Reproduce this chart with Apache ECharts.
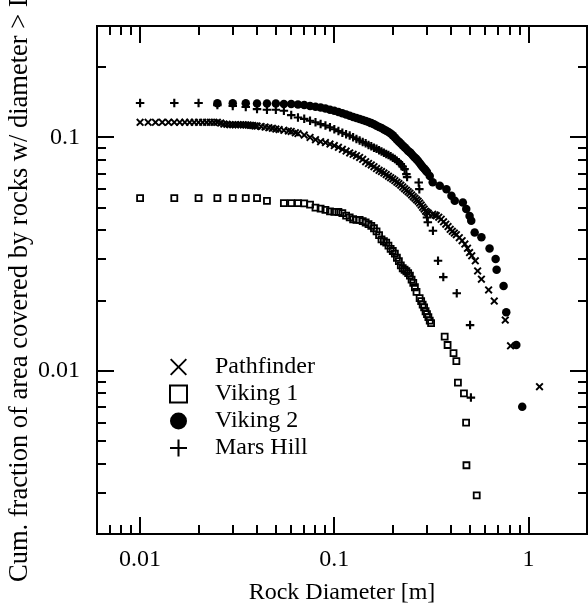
<!DOCTYPE html>
<html><head><meta charset="utf-8">
<script src="https://cdn.jsdelivr.net/npm/echarts@6/dist/echarts.min.js"></script>
<style>html,body{margin:0;padding:0;background:#fff}#c{width:588px;height:610px}</style>
</head><body><div id="c"></div>
<script>
// ---- data (rock diameter [m], cumulative area fraction) ----
const pathfinder = [
[0.010,0.116],[0.011,0.116],[0.012,0.116],[0.013,0.116],[0.014,0.116],[0.015,0.116],[0.016,0.116],[0.017,0.116],
[0.018,0.116],[0.019,0.116],[0.020,0.116],[0.021,0.116],[0.022,0.116],[0.023,0.116],[0.024,0.116],[0.025,0.116],
[0.026,0.1151],[0.027,0.1140],[0.028,0.1137],[0.029,0.1134],[0.030,0.1134],[0.031,0.1134],[0.032,0.1134],[0.033,0.1133],
[0.034,0.1132],[0.035,0.1131],[0.036,0.1129],[0.037,0.1126],[0.038,0.1123],[0.039,0.1120],[0.040,0.1118],
[0.042,0.1112],[0.044,0.1107],[0.046,0.1101],[0.048,0.1093],[0.050,0.1085],[0.052,0.1080],[0.055,0.1072],[0.058,0.1066],
[0.060,0.1061],[0.063,0.1048],[0.065,0.1038],[0.070,0.1023],[0.075,0.0999],[0.080,0.0978],[0.085,0.0959],[0.090,0.0950],
[0.095,0.0936],[0.100,0.0922],[0.105,0.0907],[0.110,0.0889],[0.115,0.0874],[0.120,0.0858],[0.125,0.0846],[0.130,0.0835],
[0.135,0.0821],[0.140,0.0805],[0.145,0.0787],[0.150,0.0773],[0.155,0.0762],[0.160,0.0749],[0.165,0.0735],[0.170,0.0723],
[0.175,0.0714],[0.180,0.0703],[0.185,0.0693],[0.190,0.0682],[0.195,0.0672],[0.200,0.0663],[0.205,0.0653],[0.210,0.0643],
[0.215,0.0634],[0.220,0.0624],[0.225,0.0613],[0.230,0.0603],[0.235,0.0594],[0.240,0.0585],[0.245,0.0577],[0.250,0.0567],
[0.255,0.0557],[0.260,0.0549],[0.265,0.0540],[0.270,0.0533],[0.275,0.0523],[0.280,0.0513],[0.285,0.0502],[0.290,0.0493],
[0.295,0.0483],[0.300,0.0478],[0.305,0.0473],[0.321,0.0468],[0.330,0.0465],[0.335,0.0462],[0.345,0.0455],[0.355,0.0446],
[0.365,0.0435],[0.375,0.0425],[0.385,0.0415],[0.395,0.0404],[0.405,0.0396],[0.415,0.0389],[0.425,0.0383],[0.440,0.0372],
[0.455,0.0361],[0.470,0.0349],[0.485,0.0335],[0.497,0.0321],[0.510,0.0311],[0.532,0.0296],[0.547,0.0268],[0.572,0.0247],
[0.623,0.0222],[0.666,0.0199],[0.759,0.0165],[0.808,0.0128],[1.139,0.00855]
];
const viking1 = [
[0.010,0.0549],[0.015,0.0549],[0.020,0.0549],[0.025,0.0549],[0.030,0.0549],[0.035,0.0549],[0.040,0.0549],[0.045,0.0535],
[0.055,0.0523],[0.060,0.0523],[0.065,0.0523],[0.070,0.0522],[0.075,0.0515],[0.080,0.0500],[0.085,0.0495],[0.090,0.0489],
[0.095,0.0482],[0.100,0.0480],[0.105,0.0479],[0.110,0.0474],[0.115,0.0462],[0.120,0.0454],[0.125,0.0446],[0.130,0.0443],
[0.135,0.0443],[0.140,0.0438],[0.145,0.0432],[0.150,0.0425],[0.155,0.0418],[0.160,0.0408],[0.165,0.0396],[0.170,0.0381],
[0.175,0.0366],[0.180,0.0359],[0.185,0.0354],[0.190,0.0344],[0.195,0.0333],[0.200,0.0326],[0.205,0.0318],[0.210,0.0305],
[0.215,0.0295],[0.220,0.0283],[0.225,0.0275],[0.230,0.0271],[0.235,0.0267],[0.240,0.0262],[0.245,0.0256],[0.250,0.0246],
[0.255,0.0238],[0.260,0.0228],[0.265,0.0218],[0.275,0.0205],[0.280,0.0199],[0.285,0.0192],[0.290,0.0187],[0.295,0.0180],
[0.300,0.0175],[0.305,0.0170],[0.310,0.0164],[0.315,0.0160],[0.370,0.0140],[0.383,0.0129],[0.411,0.0119],[0.425,0.0110],
[0.433,0.0089],[0.465,0.0080],[0.477,0.0060],[0.479,0.00394],[0.541,0.00293]
];
const viking2 = [
[0.025,0.140],[0.030,0.140],[0.035,0.140],[0.040,0.1396],[0.045,0.1396],[0.050,0.1396],[0.055,0.1389],[0.060,0.1389],
[0.065,0.1382],[0.070,0.1375],[0.075,0.1362],[0.080,0.1353],[0.085,0.1342],[0.090,0.1329],[0.095,0.1313],[0.100,0.1299],
[0.105,0.1284],[0.110,0.1269],[0.115,0.1252],[0.120,0.1238],[0.125,0.1224],[0.130,0.1211],[0.135,0.1198],[0.140,0.1186],
[0.145,0.1176],[0.150,0.1164],[0.155,0.1151],[0.160,0.1137],[0.165,0.1122],[0.170,0.1107],[0.175,0.1096],[0.180,0.1082],
[0.185,0.1068],[0.190,0.1054],[0.195,0.1038],[0.200,0.1020],[0.205,0.0998],[0.210,0.0978],[0.215,0.0959],[0.220,0.0941],
[0.225,0.0924],[0.230,0.0907],[0.235,0.0891],[0.240,0.0875],[0.245,0.0863],[0.250,0.0848],[0.255,0.0832],[0.260,0.0819],
[0.265,0.0807],[0.270,0.0793],[0.275,0.0776],[0.280,0.0761],[0.285,0.0746],[0.290,0.0735],[0.295,0.0724],[0.300,0.0710],
[0.310,0.0684],[0.321,0.0643],[0.349,0.0620],[0.378,0.0600],[0.401,0.0562],[0.417,0.0535],[0.459,0.0526],[0.478,0.0493],
[0.497,0.0461],[0.507,0.0439],[0.528,0.0391],[0.572,0.0373],[0.630,0.0334],[0.677,0.0301],[0.685,0.0271],[0.744,0.0231],
[0.768,0.0178],[0.865,0.0129],[0.928,0.00702]
];
const marsHill = [
[0.010,0.1403],[0.015,0.1403],[0.020,0.1403],[0.025,0.1375],[0.030,0.1362],[0.035,0.1349],[0.040,0.1322],[0.045,0.1313],
[0.050,0.1313],[0.055,0.1300],[0.060,0.1246],[0.065,0.1216],[0.070,0.1201],[0.075,0.1178],[0.080,0.1161],[0.085,0.1140],
[0.090,0.1125],[0.095,0.1104],[0.100,0.1084],[0.105,0.1064],[0.110,0.1047],[0.115,0.1032],[0.120,0.1018],[0.125,0.1001],
[0.130,0.0985],[0.135,0.0970],[0.140,0.0955],[0.145,0.0943],[0.150,0.0928],[0.155,0.0916],[0.160,0.0903],[0.165,0.0893],
[0.170,0.0880],[0.175,0.0870],[0.180,0.0860],[0.185,0.0849],[0.190,0.0840],[0.195,0.0831],[0.200,0.0819],[0.205,0.0807],
[0.210,0.0795],[0.215,0.0783],[0.220,0.0768],[0.225,0.0749],[0.230,0.0731],[0.235,0.0696],[0.237,0.0676],[0.272,0.0641],
[0.274,0.0600],[0.300,0.0454],[0.303,0.0433],[0.322,0.0398],[0.342,0.0296],[0.364,0.0252],[0.427,0.0215],[0.500,0.0157],
[0.505,0.00768]
];
const seriesNames = ['Pathfinder', 'Viking 1', 'Viking 2', 'Mars Hill'];
const xTickLabels = ['0.01', '0.1', '1'];
const yTickLabels = ['0.01', '0.1'];
const xMajorTicks = [0.01, 0.1, 1];
const xMinorTicks = [0.007,0.008,0.009,0.02,0.03,0.04,0.05,0.06,0.07,0.08,0.09,0.2,0.3,0.4,0.5,0.6,0.7,0.8,0.9];
const yMajorTicks = [0.01, 0.1];
const yMinorTicks = [0.003,0.004,0.005,0.006,0.007,0.008,0.009,0.02,0.03,0.04,0.05,0.06,0.07,0.08,0.09,0.2];
const X_MIN = 0.006, X_MAX = 2, Y_MIN = 0.002, Y_MAX = 0.3;

// ---- styles ----
const FONT = 'Liberation Serif';
const X_SYM = 'path://M0,1.7L1.7,0L5,3.3L8.3,0L10,1.7L6.7,5L10,8.3L8.3,10L5,6.7L1.7,10L0,8.3L3.3,5Z';
const P_SYM = 'path://M3.75,0H6.25V3.75H10V6.25H6.25V10H3.75V6.25H0V3.75H3.75Z';
const X_ICON = 'path://M0,0.8L0.8,0L5,4.2L9.2,0L10,0.8L5.8,5L10,9.2L9.2,10L5,5.8L0.8,10L0,9.2L4.2,5Z';
const P_ICON = 'path://M4.4,0H5.6V4.4H10V5.6H5.6V10H4.4V5.6H0V4.4H4.4Z';
const MAJOR = 17, MINOR = 9;

function fmt(list) {
  return function (v) {
    for (const s of list) {
      if (Math.abs(Math.log10(v) - Math.log10(parseFloat(s))) < 1e-6) return s;
    }
    return '';
  };
}
function xTickItem(params, api) {
  const v = api.value(0), len = api.value(2);
  const b = api.coord([v, Y_MIN]), t = api.coord([v, Y_MAX]);
  const x = Math.round(b[0]);
  const st = {stroke: '#000', lineWidth: 2};
  return {type: 'group', children: [
    {type: 'line', shape: {x1: x, y1: b[1], x2: x, y2: b[1] - len}, style: st},
    {type: 'line', shape: {x1: x, y1: t[1], x2: x, y2: t[1] + len}, style: st}
  ]};
}
function yTickItem(params, api) {
  const v = api.value(1), len = api.value(2);
  const l = api.coord([X_MIN, v]), r = api.coord([X_MAX, v]);
  const y = Math.round(l[1]);
  const st = {stroke: '#000', lineWidth: 2};
  return {type: 'group', children: [
    {type: 'line', shape: {x1: l[0], y1: y, x2: l[0] + len, y2: y}, style: st},
    {type: 'line', shape: {x1: r[0], y1: y, x2: r[0] - len, y2: y}, style: st}
  ]};
}

const chart = echarts.init(document.getElementById('c'), null, {renderer: 'canvas'});
chart.setOption({
  animation: false,
  backgroundColor: '#fff',
  textStyle: {fontFamily: FONT, color: '#000'},
  grid: {left: 97, top: 26, width: 490, height: 508, show: true, borderColor: '#000', borderWidth: 2,
         backgroundColor: 'rgba(0,0,0,0)', containLabel: false, outerBoundsMode: 'none'},
  xAxis: {
    type: 'log', logBase: 10, min: X_MIN, max: X_MAX,
    name: 'Rock Diameter [m]', nameLocation: 'middle', nameGap: 47, nameMoveOverlap: false,
    nameTextStyle: {fontSize: 24, color: '#000', fontFamily: FONT},
    axisLine: {show: false}, axisTick: {show: false}, splitLine: {show: false}, minorTick: {show: false},
    axisLabel: {fontSize: 24, color: '#000', fontFamily: FONT, margin: 14, formatter: fmt(xTickLabels)}
  },
  yAxis: {
    type: 'log', logBase: 10, min: Y_MIN, max: Y_MAX,
    name: 'Cum. fraction of area covered by rocks w/ diameter > D', nameLocation: 'middle', nameGap: 63,
    nameMoveOverlap: false,
    nameTextStyle: {fontSize: 26.5, color: '#000', fontFamily: FONT, padding: [0, 10, 0, 0]},
    axisLine: {show: false}, axisTick: {show: false}, splitLine: {show: false}, minorTick: {show: false},
    axisLabel: {fontSize: 24, color: '#000', fontFamily: FONT, margin: 17, formatter: fmt(yTickLabels)}
  },
  legend: {
    orient: 'vertical', left: 169, top: 355, padding: 0, itemWidth: 17, itemHeight: 17, itemGap: 3,
    selectedMode: false,
    textStyle: {fontSize: 24, color: '#000', fontFamily: FONT, padding: [0, 0, 0, 23]},
    data: [
      {name: seriesNames[0], icon: X_ICON, itemStyle: {color: '#000', borderWidth: 0, opacity: 1}},
      {name: seriesNames[1], icon: 'rect', itemStyle: {color: 'rgba(0,0,0,0)', borderColor: '#000', borderWidth: 2, opacity: 1}},
      {name: seriesNames[2], icon: 'circle', itemStyle: {color: '#000', borderWidth: 0, opacity: 1}},
      {name: seriesNames[3], icon: P_ICON, itemStyle: {color: '#000', borderWidth: 0, opacity: 1}}
    ]
  },
  series: [
    {type: 'custom', name: 'xticks', silent: true, renderItem: xTickItem,
     data: xMajorTicks.map(v => [v, 0.01, MAJOR]).concat(xMinorTicks.map(v => [v, 0.01, MINOR])), z: 5},
    {type: 'custom', name: 'yticks', silent: true, renderItem: yTickItem,
     data: yMajorTicks.map(v => [0.01, v, MAJOR]).concat(yMinorTicks.map(v => [0.01, v, MINOR])), z: 5},
    {type: 'scatter', name: seriesNames[0], data: pathfinder, symbol: X_SYM, symbolSize: 8, itemStyle: {color: '#000', opacity: 1}},
    {type: 'scatter', name: seriesNames[1], data: viking1, symbol: 'rect', symbolSize: 6,
     itemStyle: {color: 'rgba(0,0,0,0)', borderColor: '#000', borderWidth: 1.8, opacity: 1}},
    {type: 'scatter', name: seriesNames[2], data: viking2, symbol: 'circle', symbolSize: 8.5, itemStyle: {color: '#000', opacity: 1}},
    {type: 'scatter', name: seriesNames[3], data: marsHill, symbol: P_SYM, symbolSize: 8.5, itemStyle: {color: '#000', opacity: 1}}
  ]
});
</script></body></html>
